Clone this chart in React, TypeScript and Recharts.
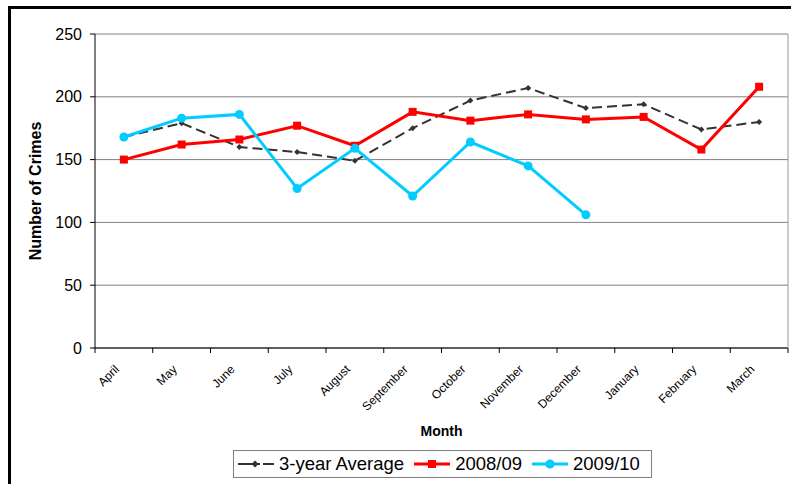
import React from 'react';
import { LineChart, Line, XAxis, YAxis, CartesianGrid, Legend } from 'recharts';

const months = ['April', 'May', 'June', 'July', 'August', 'September', 'October', 'November', 'December', 'January', 'February', 'March'];
const avg3yr = [168, 179, 160, 156, 149, 175, 197, 207, 191, 194, 174, 180];
const y0809 = [150, 162, 166, 177, 161, 188, 181, 186, 182, 184, 158, 208];
const y0910: (number | null)[] = [168, 183, 186, 127, 159, 121, 164, 145, 106, null, null, null];
const yTicks = [0, 50, 100, 150, 200, 250];

const seriesNames = ['3-year Average', '2008/09', '2009/10'];
const seriesColors = ['#333333', '#FF0000', '#00CCFF'];

const chartData = months.map((m, i) => ({ month: m, avg: avg3yr[i], s0809: y0809[i], s0910: y0910[i] }));

const FONT = '"Liberation Sans", Arial, sans-serif';

function MonthTick(props: any) {
  const { x, y, payload, index, visibleTicksCount, width } = props;
  const half = payload && payload.offset ? payload.offset : width / (2 * visibleTicksCount);
  const ax = x - 4;
  const ay = y + 22;
  return (
    <g>
      <line x1={x - half} x2={x - half} y1={y} y2={y + 5} stroke="#000" strokeWidth={1} />
      {index === visibleTicksCount - 1 && (
        <line x1={x + half} x2={x + half} y1={y} y2={y + 5} stroke="#000" strokeWidth={1} />
      )}
      <text x={ax} y={ay} textAnchor="end" fontSize={12} fill="#000" fontFamily={FONT} transform={`rotate(-45, ${ax}, ${ay})`}>
        {payload.value}
      </text>
    </g>
  );
}

function DiamondDot(props: any) {
  const { cx, cy } = props;
  if (cx == null || cy == null) return <g key={props.index} />;
  const s = 3;
  return <path key={props.index} d={`M${cx},${cy - s}L${cx + s},${cy}L${cx},${cy + s}L${cx - s},${cy}Z`} fill={seriesColors[0]} />;
}

function SquareDot(props: any) {
  const { cx, cy } = props;
  if (cx == null || cy == null) return <g key={props.index} />;
  const s = 4;
  return <rect key={props.index} x={cx - s} y={cy - s} width={2 * s} height={2 * s} fill={seriesColors[1]} />;
}

function LegendIcon({ i }: { i: number }) {
  const c = seriesColors[i];
  if (i === 0) {
    return (
      <svg width={36} height={14} style={{ display: 'block' }}>
        <line x1={0} y1={7} x2={13} y2={7} stroke={c} strokeWidth={2} />
        <line x1={13} y1={7} x2={22} y2={7} stroke={c} strokeWidth={2} />
        <path d="M17,3.5L20.5,7L17,10.5L13.5,7Z" fill={c} />
        <line x1={25} y1={7} x2={36} y2={7} stroke={c} strokeWidth={2} />
      </svg>
    );
  }
  return (
    <svg width={36} height={14} style={{ display: 'block' }}>
      <line x1={0} y1={7} x2={36} y2={7} stroke={c} strokeWidth={3} />
      {i === 1 ? <rect x={14} y={3} width={8} height={8} fill={c} /> : <circle cx={18} cy={7} r={4.5} fill={c} />}
    </svg>
  );
}

function LegendBox() {
  return (
    <div
      style={{
        width: 419,
        height: 28,
        boxSizing: 'border-box',
        border: '1px solid #808080',
        display: 'flex',
        alignItems: 'center',
        paddingLeft: 4,
        fontFamily: FONT,
        fontSize: 18.5,
        color: '#000',
        whiteSpace: 'nowrap',
      }}
    >
      {seriesNames.map((n, i) => (
        <div key={n} style={{ display: 'flex', alignItems: 'center', marginRight: 10 }}>
          <LegendIcon i={i} />
          <span style={{ marginLeft: 5 }}>{n}</span>
        </div>
      ))}
    </div>
  );
}

export default function App() {
  return (
    <div style={{ position: 'absolute', left: 0, top: 0, width: 791, height: 484, overflow: 'hidden', background: '#fff' }}>
      <div
        style={{
          position: 'absolute',
          left: 8,
          top: 6,
          width: 783,
          height: 478,
          boxSizing: 'border-box',
          borderTop: '3px solid #000',
          borderLeft: '3px solid #000',
        }}
      />
      <div style={{ position: 'absolute', left: 0, top: 0 }}>
        <LineChart width={791} height={484} data={chartData} margin={{ top: 34, right: 2, bottom: 6, left: 0 }} style={{ fontFamily: FONT }}>
          <CartesianGrid vertical={false} stroke="#808080" strokeWidth={1} />
          <XAxis
            dataKey="month"
            scale="band"
            height={102}
            tickSize={0}
            tickMargin={0}
            tickLine={false}
            interval={0}
            axisLine={{ stroke: '#000' }}
            tick={<MonthTick />}
            label={{ value: 'Month', position: 'insideBottom', offset: 14, style: { fontWeight: 'bold', fontSize: 14, fill: '#000', fontFamily: FONT } }}
          />
          <YAxis
            width={95}
            domain={[0, 250]}
            ticks={yTicks}
            interval={0}
            tickSize={5}
            tickMargin={8}
            axisLine={{ stroke: '#000' }}
            tickLine={{ stroke: '#000' }}
            tick={{ fontSize: 16, fill: '#000', fontFamily: FONT }}
            label={{ value: 'Number of Crimes', angle: -90, position: 'insideLeft', offset: 35, style: { textAnchor: 'middle', fontWeight: 'bold', fontSize: 16, fill: '#000', fontFamily: FONT } }}
          />
          <YAxis yAxisId="frame" orientation="right" width={1} tick={false} tickLine={false} axisLine={{ stroke: '#999999' }} />
          <Legend content={<LegendBox />} wrapperStyle={{ left: 233, width: 419 }} />
          <Line
            name={seriesNames[0]}
            dataKey="avg"
            stroke={seriesColors[0]}
            strokeWidth={2}
            strokeDasharray="10 5"
            dot={(p: any) => <DiamondDot key={p.index} {...p} />}
            activeDot={false}
            isAnimationActive={false}
          />
          <Line
            name={seriesNames[1]}
            dataKey="s0809"
            stroke={seriesColors[1]}
            strokeWidth={3}
            dot={(p: any) => <SquareDot key={p.index} {...p} />}
            activeDot={false}
            isAnimationActive={false}
          />
          <Line
            name={seriesNames[2]}
            dataKey="s0910"
            stroke={seriesColors[2]}
            strokeWidth={3}
            dot={{ r: 4.5, fill: seriesColors[2], stroke: seriesColors[2], strokeWidth: 0 }}
            activeDot={false}
            isAnimationActive={false}
          />
        </LineChart>
      </div>
    </div>
  );
}
